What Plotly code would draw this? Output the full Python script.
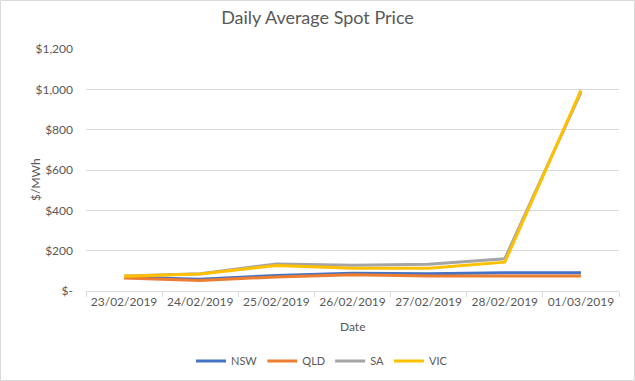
import plotly.graph_objects as go

dates = ["23/02/2019", "24/02/2019", "25/02/2019", "26/02/2019", "27/02/2019", "28/02/2019", "01/03/2019"]
nsw = [68, 58, 77, 88, 85, 90, 90]
qld = [65, 52, 70, 80, 75, 75, 75]
sa = [75, 85, 134, 128, 133, 160, 985]
vic = [73, 84, 126, 113, 113, 143, 995]

y_tickvals = [0, 200, 400, 600, 800, 1000, 1200]
y_ticktext = ["$-", "$200", "$400", "$600", "$800", "$1,000", "$1,200"]

series = [("NSW", nsw, "#4472C4"), ("QLD", qld, "#ED7D31"), ("SA", sa, "#A5A5A5"), ("VIC", vic, "#FFC000")]

W, H = 635, 381
L, R, T, B = 86, 16, 49, 90
pw, ph = W - L - R, H - T - B

fig = go.Figure()
for name, vals, color in series:
    fig.add_trace(go.Scatter(x=dates, y=vals, name=name, mode="lines",
                             line=dict(color=color, width=3)))

font = "Lato, 'Open Sans', sans-serif"
fig.update_layout(
    width=W, height=H,
    margin=dict(l=L, r=R, t=T, b=B, autoexpand=False),
    paper_bgcolor="white", plot_bgcolor="white",
    font=dict(family=font, size=12, color="#595959"),
    title=dict(text="Daily Average Spot Price", x=0.5, xanchor="center", y=1 - 18 / H, yanchor="middle",
               font=dict(size=18, color="#595959", family=font)),
    legend=dict(orientation="h", x=(322 - L) / pw, xanchor="center", y=-(361 - 291) / ph, yanchor="middle",
                font=dict(size=11, color="#595959"), itemwidth=30, tracegroupgap=0),
    showlegend=True,
)
fig.update_xaxes(type="category", range=[-0.5, 6.5], automargin=False, showline=True,
                 linecolor="#D9D9D9", linewidth=1,
                 ticks="outside", tickson="boundaries", tickcolor="#D9D9D9", ticklen=5,
                 showgrid=False, tickfont=dict(size=12, color="#595959"))
fig.update_yaxes(range=[0, 1200], automargin=False, tickvals=y_tickvals, ticktext=y_ticktext,
                 showgrid=True, gridcolor="#D9D9D9", gridwidth=1, zeroline=False, showline=False,
                 ticks="", ticklabelstandoff=12,
                 tickfont=dict(size=12, color="#595959"))
fig.add_annotation(text="Date", xref="paper", yref="paper", x=0.5, y=-(326 - 291) / ph,
                   xanchor="center", yanchor="middle", showarrow=False,
                   font=dict(size=12, color="#595959"))
fig.add_annotation(text="$/MWh", xref="paper", yref="paper", x=(35 - L) / pw, y=(291 - 180) / ph,
                   xanchor="center", yanchor="middle", textangle=-90, showarrow=False,
                   font=dict(size=12, color="#595959"))
fig.add_shape(type="rect", xref="paper", yref="paper",
              x0=(-L + 0.5) / pw, x1=(W - L - 0.5) / pw,
              y0=(-B + 0.5) / ph, y1=(ph + T - 0.5) / ph,
              line=dict(color="#D9D9D9", width=1), layer="below")
fig.write_html("out.html", config={"displayModeBar": False},
               post_script="document.body.style.margin='0';")
